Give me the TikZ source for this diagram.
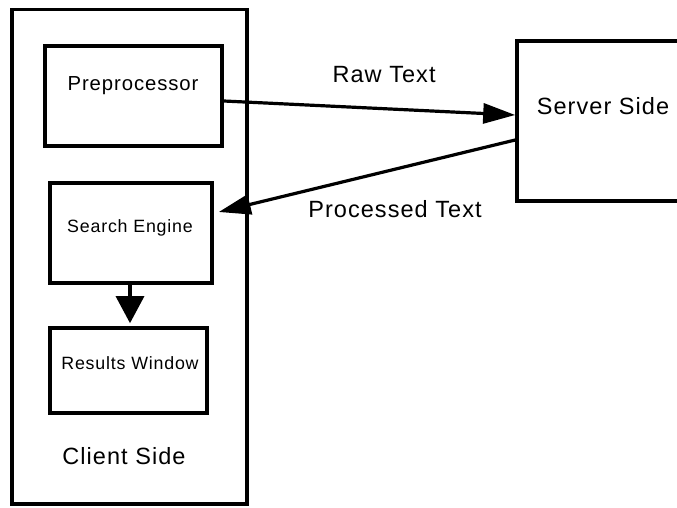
\documentclass[tikz,border=0pt]{standalone}
\usepackage{fontspec}
\setmainfont{Liberation Sans}
\newfontfamily\spaced{Liberation Sans}[LetterSpace=4.5]
\usetikzlibrary{arrows.meta}
\tikzset{
  box/.style={draw=black, line width=3.6pt, fill=white, inner sep=0pt},
  lbl/.style={inner sep=0pt, font=\spaced},
  big/.style={lbl, font=\spaced\fontsize{23.5}{28}\selectfont},
  mid/.style={lbl, font=\spaced\fontsize{20.3}{24}\selectfont},
  small/.style={lbl, font=\spaced\fontsize{17.8}{22}\selectfont},
  flow/.style={line width=3.2pt, -{Triangle[length=32pt,width=20pt]}},
  down/.style={line width=3.2pt, -{Triangle[length=27pt,width=28pt]}},
}
\begin{document}
\begin{tikzpicture}[x=1pt,y=1pt]
\useasboundingbox (0,0) rectangle (677,-508);
\fill[white] (0,0) rectangle (677,-508);
\clip (0,0) rectangle (677,-508);

% client side container and its components
\node[box, minimum width=235, minimum height=494.5] (client) at (129.5,-256.75) {};
\node[box, minimum width=177, minimum height=100] (pre) at (133.5,-96) {};
\node[box, minimum width=162, minimum height=100] (se) at (131,-233) {};
\node[box, minimum width=157, minimum height=85] (rw) at (128.5,-370.5) {};

% server side (runs off the right edge)
\node[box, minimum width=200, minimum height=160] (srv) at (617,-121) {};

% box titles
\node[mid] (preT) at (133,-86) {Preprocessor};
\node[small] (seT) at (130,-228) {Search Engine};
\node[small] (rwT) at (130,-363) {Results Window};
\node[big] (clT) at (124,-456) {Client Side};
\node[big] (srvT) at (603,-106) {Server Side};

% connectors
\draw[flow] ([yshift=-5pt]pre.east) -- ([yshift=6pt]srv.west)
  node[big, pos=0.55, above=24pt] (raw) {Raw Text};
\draw[flow] ([yshift=-19pt]srv.west) -- ([xshift=5pt,yshift=21pt]se.east);
\node[big] (proc) at (395,-209) {Processed Text};
\draw[down] ([xshift=-1pt]se.south) -- ([xshift=1.5pt,yshift=3pt]rw.north);
\end{tikzpicture}
\end{document}
